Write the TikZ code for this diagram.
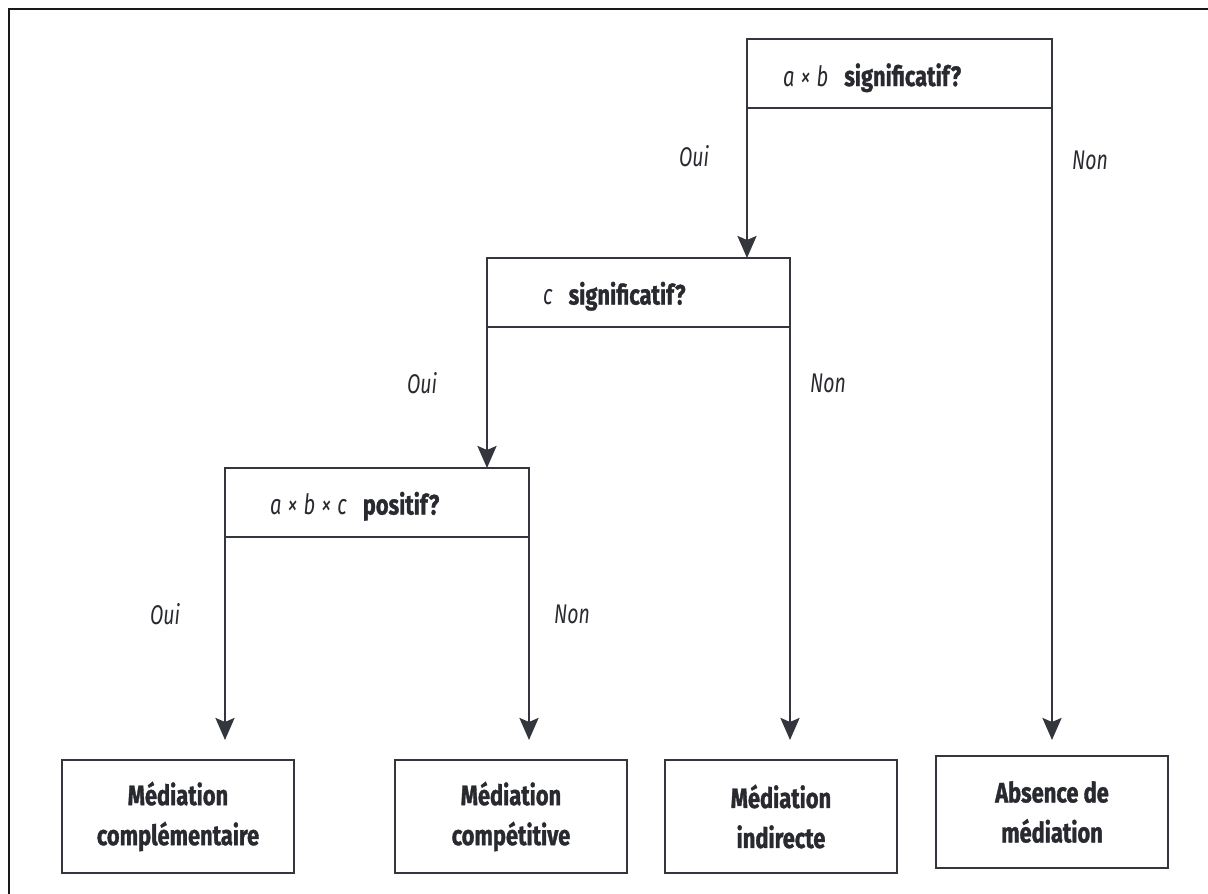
\documentclass[tikz,border=0pt]{standalone}
\usepackage{fontspec}
\setmainfont{Fira Sans}
\newfontfamily\bfam[FakeStretch=0.78,BoldFeatures={FakeBold=1.2}]{Fira Sans}
\newfontfamily\ifam[FakeStretch=0.72]{Fira Sans}
\usetikzlibrary{arrows.meta}
\definecolor{lc}{RGB}{52,54,62}
\definecolor{tc}{RGB}{40,42,48}
\begin{document}
\begin{tikzpicture}[x=1pt,y=-1pt,
  qbox/.style={draw=lc,line width=2.6pt,minimum height=69pt,inner sep=0pt,outer sep=0pt},
  endbox/.style={draw=lc,line width=2.6pt,minimum width=232pt,minimum height=113pt,inner sep=0pt,outer sep=0pt,align=center,text=tc,font=\bfam\bfseries\fontsize{28}{40}\selectfont},
  qtext/.style={anchor=base west,inner sep=0pt,text=tc,font=\fontsize{28}{30}\selectfont},
  lab/.style={inner sep=0pt,text=tc,font=\ifam\itshape\fontsize{27}{30}\selectfont},
  arr/.style={draw=lc,line width=2.6pt,-{Stealth[length=22pt,width=19pt,inset=4pt]}},
  frame/.style={draw=black!90,line width=2.4pt}
]
\useasboundingbox (0,0) rectangle (1208,894);
\fill[white] (0,0) rectangle (1208,894);
\draw[frame] (9,894) -- (9,9) -- (1208,9);

% question boxes
\node[qbox,minimum width=305pt] (b1) at (899.5,73.5) {};
\node[qbox,minimum width=303pt] (b2) at (638.5,292.5) {};
\node[qbox,minimum width=304pt] (b3) at (377,502.5) {};

\node[qtext] (t1) at (783,86) {{\ifam\itshape a\hspace{6pt}×\hspace{6pt}b}\hspace{16pt}{\bfam\bfseries significatif?}};
\node[qtext] (t2) at (543,304.5) {{\ifam\itshape c}\hspace{16pt}{\bfam\bfseries significatif?}};
\node[qtext] (t3) at (270,514.5) {{\ifam\itshape a\hspace{6pt}×\hspace{6pt}b\hspace{6pt}×\hspace{6pt}c}\hspace{16pt}{\bfam\bfseries positif?}};

% end boxes
\node[endbox] (e1) at (178,816.5) {Médiation\\complémentaire};
\node[endbox] (e2) at (511,816.5) {Médiation\\compétitive};
\node[endbox] (e3) at (781,816.5) {Médiation\\indirecte};
\node[endbox,minimum height=112pt] (e4) at (1052,812) {Absence de\\médiation};

% connectors
\draw[arr] (b1.south west) -- (b1.south west |- b2.north);
\draw[arr,shorten >=16pt] (b1.south east) -- (b1.south east |- e4.north);
\draw[arr] (b2.south west) -- (b2.south west |- b3.north);
\draw[arr,shorten >=20pt] (b2.south east) -- (b2.south east |- e3.north);
\draw[arr,shorten >=20pt] (b3.south west) -- (b3.south west |- e1.north);
\draw[arr,shorten >=20pt] (b3.south east) -- (b3.south east |- e2.north);

% labels
\node[lab] (o1) at (694,156) {Oui};
\node[lab] (n1) at (1090,160) {Non};
\node[lab] (o2) at (422,383) {Oui};
\node[lab] (n2) at (828,383) {Non};
\node[lab] (o3) at (165,614) {Oui};
\node[lab] (n3) at (572,614) {Non};
\end{tikzpicture}
\end{document}
